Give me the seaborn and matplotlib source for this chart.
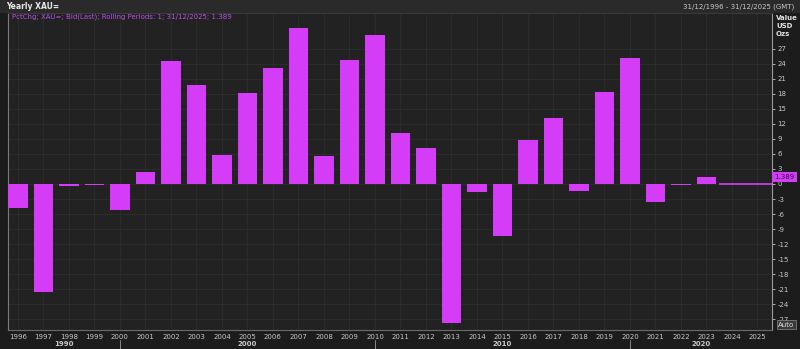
import matplotlib
matplotlib.use("Agg")
import matplotlib.pyplot as plt
import seaborn as sns
import pandas as pd
import numpy as np

years = [str(y) for y in range(1996, 2026)]
pct_change = [-4.8, -21.6, -0.4, -0.3, -5.2, 2.4, 24.6, 19.8, 5.8, 18.2,
              23.2, 31.2, 5.6, 24.8, 29.8, 10.2, 7.2, -27.8, -1.6, -10.4,
              8.8, 13.2, -1.4, 18.4, 25.2, -3.6, -0.3, 1.389, 0.0, 0.0]
y_ticks = list(range(-27, 30, 3))
decades = ["1990", "2000", "2010", "2020"]
decade_starts = ["2000", "2010", "2020"]
last_value = 1.389

BG = "#1c1c1c"
PLOT_BG = "#222222"
GRID = "#2d2d2d"
TXT = "#c8c8c8"
BAR = "#d43cf7"

sns.set_theme(style="dark")
plt.rcParams['font.family'] = ['DejaVu Sans']

fig = plt.figure(figsize=(8, 3.49), dpi=100, facecolor=BG)
ax = fig.add_axes([0.01, 0.0544, 0.955, 0.9084])
ax.set_facecolor(PLOT_BG)

df = pd.DataFrame({"year": years, "value": pct_change})
sns.barplot(data=df, x="year", y="value", color=BAR, width=0.78,
            saturation=1, ax=ax, zorder=3, edgecolor="none", linewidth=0)

# zero-level line for the trailing empty periods
i24 = years.index("2024")
ax.hlines(0, i24 - 0.5, len(years), color=BAR, lw=1.2, zorder=3)

ax.set_xlim(-0.39, 29.57)
ax.set_ylim(-29.2, 34.2)
ax.set_xlabel("")
ax.set_ylabel("")

ax.yaxis.tick_right()
ax.set_yticks(y_ticks)
ax.set_yticklabels([str(t) for t in y_ticks])
ax.tick_params(axis="y", colors=TXT, labelsize=5, length=2.5, width=0.6,
               direction="out", pad=1.5, right=True, left=False)
ax.tick_params(axis="x", colors=TXT, labelsize=5, length=0, pad=3)

ax.grid(True, color=GRID, lw=0.6, zorder=0)
ax.set_axisbelow(True)
for s in ["top", "left", "bottom", "right"]:
    ax.spines[s].set_visible(True)
    ax.spines[s].set_color("#3a3a3a")
    ax.spines[s].set_linewidth(0.8)
ax.spines["right"].set_color("#9a9a9a")
ax.spines["bottom"].set_color("#6a6a6a")
ax.spines["left"].set_color("#7a7a7a")

# last value tag
ax.text(29.66, last_value, "1.389", transform=ax.transData, fontsize=5,
        color="#2a1030", va="center", ha="left", clip_on=False,
        bbox=dict(boxstyle="square,pad=0.3", fc=BAR, ec="none"), zorder=5)

# decade grouping axis
trans = ax.get_xaxis_transform()
ds_idx = [years.index(d) for d in decade_starts]
bounds = [-0.39] + ds_idx + [29.57]
for i in ds_idx:
    ax.plot([i, i], [-0.033, -0.06], transform=trans, color="#9a9a9a",
            lw=0.6, clip_on=False)
for k, lab in enumerate(decades):
    mid = (bounds[k] + bounds[k + 1]) / 2
    ax.text(mid, -0.044, lab, transform=trans, fontsize=5, color=TXT,
            ha="center", va="center", fontweight="bold")

# header texts
fig.add_artist(plt.Rectangle((0, 0.963), 1, 0.037, transform=fig.transFigure,
                             fc="#2a2a2a", ec="none", zorder=-1))
fig.text(0.008, 0.982, "Yearly XAU=", fontsize=5.5, color="#e8e8e8",
         fontweight="bold", va="center", ha="left")
fig.text(0.993, 0.98, "31/12/1996 - 31/12/2025 (GMT)", fontsize=5,
         color=TXT, va="center", ha="right")
fig.text(0.015, 0.952, "PctChg; XAU=; Bid(Last); Rolling Periods: 1; 31/12/2025; 1.389",
         fontsize=5, color="#b850e8", va="center", ha="left")
for k, t in enumerate(["Value", "USD", "Ozs"]):
    fig.text(0.97, 0.948 - k * 0.023, t, fontsize=5, color="#e0e0e0",
             fontweight="bold", va="center", ha="left")
fig.text(0.973, 0.07, "Auto", fontsize=5, color="#e0e0e0", va="center",
         ha="left", bbox=dict(boxstyle="square,pad=0.2", fc="#3a3a3a",
                              ec="#8a8a8a", lw=0.5))

fig.savefig("out.png", dpi=100, facecolor=BG)
